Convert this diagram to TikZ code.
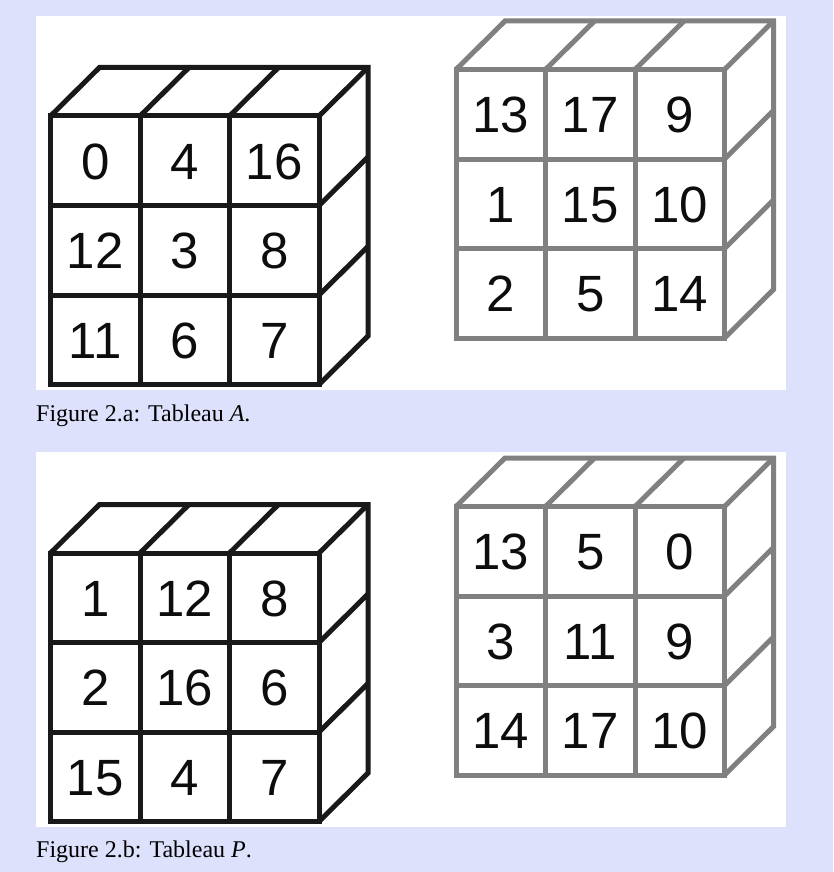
\documentclass[tikz,border=0pt]{standalone}
\usepackage{fontspec}
\setmainfont{Liberation Serif}
\newfontfamily\numfont{Liberation Sans}
\usetikzlibrary{calc}
\definecolor{page}{RGB}{221,225,252}
\colorlet{near}{black!90}
\colorlet{far}{black!50}
\def\cell{89.5}
\def\depx{49}
\def\depy{-48.5}
\newcommand\tableau[4]{% name, front corner, colour, numbers
\begin{scope}[shift={#2},draw=#3,line width=5pt,line join=miter]
\draw (0,0) rectangle (3*\cell,3*\cell);
\foreach \i in {1,2}{
\draw (\i*\cell,0)--(\i*\cell,3*\cell);
\draw (0,\i*\cell)--(3*\cell,\i*\cell);}
\draw (0,0)--++(\depx,\depy)--(3*\cell+\depx,\depy)--(3*\cell+\depx,3*\cell+\depy)--(3*\cell,3*\cell);
\foreach \i in {1,2,3} \draw (\i*\cell,0)--++(\depx,\depy);
\foreach \j in {1,2} \draw (3*\cell,\j*\cell)--++(\depx,\depy);
\foreach \n [count=\k from 0] in {#4}{
\pgfmathtruncatemacro\row{\k/3}
\pgfmathtruncatemacro\col{mod(\k,3)}
\node[num] (#1-\k) at ({(\col+.5)*\cell},{(\row+.5)*\cell}) {\n};}
\end{scope}}

\begin{document}
\begin{tikzpicture}[x=1pt,y=-1pt]
\tikzset{num/.style={font=\numfont\fontsize{51}{51}\selectfont,text=black!95,inner sep=0pt,text height=36.5pt,text depth=0pt},
caption/.style={font=\fontsize{24}{24}\selectfont,anchor=base west,inner sep=0pt}}

\fill[page] (0,0) rectangle (833,872);
\fill[white] (36,16) rectangle (786,390);
\fill[white] (36,452) rectangle (786,827);

% Tableau A
\tableau{A1}{(50.5,116)}{near}{0,4,16,12,3,8,11,6,7}
\tableau{A2}{(456,69.5)}{far}{13,17,9,1,15,10,2,5,14}
\node[caption] (capA) at (36,421) {Figure 2.a: Tableau \textit{A}.};

% Tableau P
\tableau{P1}{(50.5,553)}{near}{1,12,8,2,16,6,15,4,7}
\tableau{P2}{(456,506.5)}{far}{13,5,0,3,11,9,14,17,10}
\node[caption] (capP) at (36,857) {Figure 2.b: Tableau \textit{P}.};
\end{tikzpicture}
\end{document}
